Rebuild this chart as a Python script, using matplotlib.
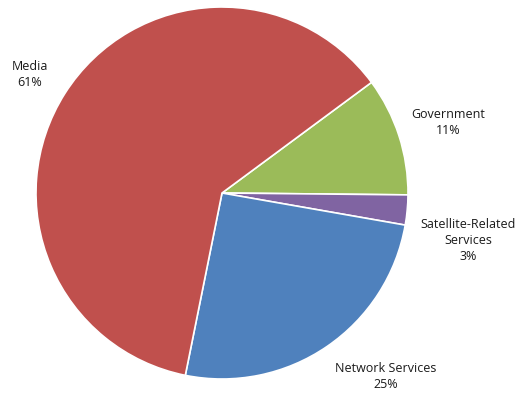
import matplotlib
matplotlib.use("Agg")
import matplotlib.pyplot as plt

categories = ["Government", "Satellite-Related\nServices", "Network Services", "Media"]
values = [10.3, 2.6, 25.4, 61.7]
pct_labels = ["11%", "3%", "25%", "61%"]
colors = ["#9BBB59", "#8064A2", "#4F81BD", "#C0504D"]

W, H = 528, 399
fig = plt.figure(figsize=(W / 100, H / 100), dpi=100)
cx, cy, r = 222, 193, 186
ax = fig.add_axes([(cx - r) / W, (H - cy - r) / H, 2 * r / W, 2 * r / H])
ax.pie(values, colors=colors, startangle=36.5, counterclock=False, radius=1,
       wedgeprops=dict(edgecolor="white", linewidth=1.2))
ax.set_xlim(-1, 1)
ax.set_ylim(-1, 1)
ax.set_aspect("equal")
ax.axis("off")

label_pos = {
    "Government": (448, 123),
    "Satellite-Related\nServices": (468, 240),
    "Network Services": (386, 377),
    "Media": (30, 75),
}
for cat, pct in zip(categories, pct_labels):
    px, py = label_pos[cat]
    ax.text((px - cx) / r, (cy - py) / r, f"{cat}\n{pct}", ha="center", va="center",
            fontsize=9, family=["Open Sans", "DejaVu Sans"], color="#1a1a1a",
            linespacing=1.3, clip_on=False)

fig.savefig("out.png", dpi=100)
